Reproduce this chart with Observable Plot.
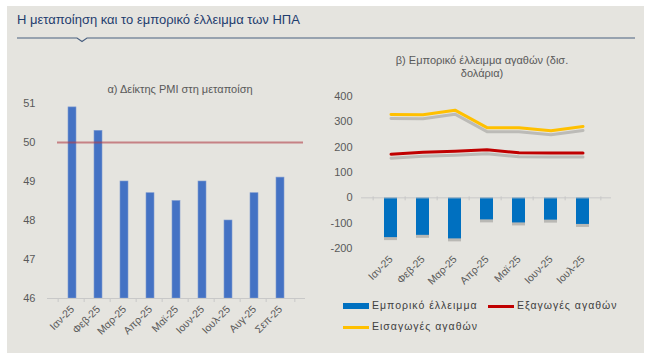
<!DOCTYPE html>
<html><head><meta charset="utf-8">
<script src="https://cdn.jsdelivr.net/npm/d3@7"></script>
<script src="https://cdn.jsdelivr.net/npm/@observablehq/plot@0.6"></script>
<style>
html,body{margin:0;padding:0;background:#fff;}
body{width:651px;height:362px;position:relative;overflow:hidden;font-family:"Liberation Sans",Arial,sans-serif;}
#panel{position:absolute;left:7px;top:6px;width:637px;height:347px;background:#e5e4df;}
#title{position:absolute;left:17px;top:12px;font-size:13px;color:#1f3d6e;white-space:nowrap;}
#rule{position:absolute;left:17px;top:33px;}
.ctitle{position:absolute;font-size:11px;color:#595959;text-align:center;line-height:12.5px;}
#left{position:absolute;left:0;top:95px;}
#right{position:absolute;left:320px;top:88px;}
.leg{position:absolute;font-size:10.5px;color:#404040;letter-spacing:1px;white-space:nowrap;}
.sw{position:absolute;}
</style></head><body>
<div id="panel"></div>
<div id="title">Η μεταποίηση και το εμπορικό έλλειμμα των ΗΠΑ</div>
<svg id="rule" width="620" height="10"><path d="M0,5 H60 L65,8.5 L70,5 H618" fill="none" stroke="#4a6080" stroke-width="1.2"/></svg>
<div class="ctitle" style="left:80px;top:83px;width:200px;">α) Δείκτης PMI στη μεταποίση</div>
<div class="ctitle" style="left:372px;top:54px;width:220px;">β) Εμπορικό έλλειμμα αγαθών (δισ.<br>δολάρια)</div>
<div id="left"></div>
<div id="right"></div>
<div id="legend"></div>
<script>
// ---- data ----
const months9 = ["Ιαν-25","Φεβ-25","Μαρ-25","Απρ-25","Μαϊ-25","Ιουν-25","Ιουλ-25","Αυγ-25","Σεπ-25"];
const pmi = [50.9, 50.3, 49.0, 48.7, 48.5, 49.0, 48.0, 48.7, 49.1];
const pmiThreshold = 50;
const pmiBase = 46;
const pmiTicks = [46, 47, 48, 49, 50, 51];

const months7 = ["Ιαν-25","Φεβ-25","Μαρ-25","Απρ-25","Μαϊ-25","Ιουν-25","Ιουλ-25"];
const tradeBalance = [-157, -148, -162, -87, -99, -88, -105];
const goodsExports = [172, 180, 184, 190, 178, 177, 177];
const goodsImports = [329, 328, 346, 277, 277, 265, 282];
const tradeTicks = [-200, -100, 0, 100, 200, 300, 400];

const seriesNames = ["Εμπορικό έλλειμμα", "Εξαγωγές αγαθών", "Εισαγωγές αγαθών"];
const seriesColors = ["#0070c0", "#c00000", "#ffc000"];

// ---- left chart ----
const pmiData = months9.map((m, i) => ({m, v: pmi[i]}));
const leftW = 320, leftML = 47, leftMR = 15;
const step9 = (leftW - leftML - leftMR) / months9.length;
const style = {fontSize: "11px", fontFamily: "Liberation Sans, Arial, sans-serif", color: "#595959", background: "transparent", overflow: "visible"};

const left = Plot.plot({
  width: leftW, height: 253,
  marginTop: 8, marginBottom: 50, marginLeft: leftML, marginRight: leftMR,
  style,
  x: {domain: months9, padding: 0.68, label: null},
  y: {domain: [46, 51], label: null},
  marks: [
    Plot.axisY({ticks: pmiTicks, tickSize: 0, tickPadding: 12, label: null, tickFormat: d => String(d)}),
    Plot.axisX({tickSize: 0, tickPadding: 9, tickRotate: -45, label: null, fontSize: 10.5}),
    Plot.barY(pmiData, {x: "m", y1: pmiBase, y2: "v", fill: "#4472c4", stroke: "#7f9bd1", strokeWidth: 0.6}),
    Plot.ruleY([pmiThreshold], {stroke: "#b0404a", strokeOpacity: 0.6, strokeWidth: 2, insetLeft: 10, insetRight: 2}),
    Plot.ruleY([pmiBase], {stroke: "#c8c8c8", strokeWidth: 1}),
    Plot.ruleX(months9, {x: d => d, y1: pmiBase, y2: pmiBase, insetBottom: -4, stroke: "#c8c8c8", dx: -step9 / 2}),
    Plot.ruleX([months9[months9.length - 1]], {x: d => d, y1: pmiBase, y2: pmiBase, insetBottom: -4, stroke: "#c8c8c8", dx: step9 / 2})
  ]
});
document.getElementById("left").append(left);

// ---- right chart ----
const tradeData = months7.map((m, i) => ({m, bal: tradeBalance[i], ex: goodsExports[i], im: goodsImports[i]}));
const rightW = 320, rightML = 41, rightMR = 29;
const step7 = (rightW - rightML - rightMR) / months7.length;

const right = Plot.plot({
  width: rightW, height: 210,
  marginTop: 8, marginBottom: 50, marginLeft: rightML, marginRight: rightMR,
  style,
  x: {domain: months7, padding: 0.6, label: null},
  y: {domain: [-200, 400], label: null},
  marks: [
    Plot.axisY({ticks: tradeTicks, tickSize: 0, tickPadding: 9, label: null, tickFormat: d => String(d)}),
    Plot.axisX({tickSize: 0, tickPadding: 9, tickRotate: -45, label: null, fontSize: 10.5}),
    Plot.barY(tradeData, {x: "m", y: "bal", fill: "#b9b8b4", dy: 3}),
    Plot.barY(tradeData, {x: "m", y: "bal", fill: seriesColors[0]}),
    Plot.ruleY([0], {stroke: "#c8c8c8", strokeWidth: 1}),
    Plot.ruleX(months7, {x: d => d, y1: 0, y2: 0, insetBottom: -3, insetTop: -1, stroke: "#c8c8c8", dx: -step7 / 2}),
    Plot.ruleX([months7[months7.length - 1]], {x: d => d, y1: 0, y2: 0, insetBottom: -3, insetTop: -1, stroke: "#c8c8c8", dx: step7 / 2}),
    Plot.lineY(tradeData, {x: "m", y: "im", stroke: "#bcbbb7", strokeWidth: 3, dy: 4}),
    Plot.lineY(tradeData, {x: "m", y: "ex", stroke: "#bcbbb7", strokeWidth: 3, dy: 4}),
    Plot.lineY(tradeData, {x: "m", y: "im", stroke: seriesColors[2], strokeWidth: 3}),
    Plot.lineY(tradeData, {x: "m", y: "ex", stroke: seriesColors[1], strokeWidth: 3})
  ]
});
document.getElementById("right").append(right);

// ---- legend ----
const legPos = [[343, 306, "bar"], [488, 306, "line"], [343, 327, "line"]];
const legend = document.getElementById("legend");
seriesNames.forEach((name, i) => {
  const [x, y, kind] = legPos[i];
  const sw = document.createElement("div");
  sw.className = "sw";
  const h = kind === "bar" ? 6 : 3;
  sw.style.cssText = `left:${x}px;top:${y - h / 2}px;width:26px;height:${h}px;background:${seriesColors[i]};`;
  legend.append(sw);
  const t = document.createElement("div");
  t.className = "leg";
  t.style.cssText = `left:${x + 29}px;top:${y - 7}px;`;
  t.textContent = name;
  legend.append(t);
});
</script>
</body></html>
